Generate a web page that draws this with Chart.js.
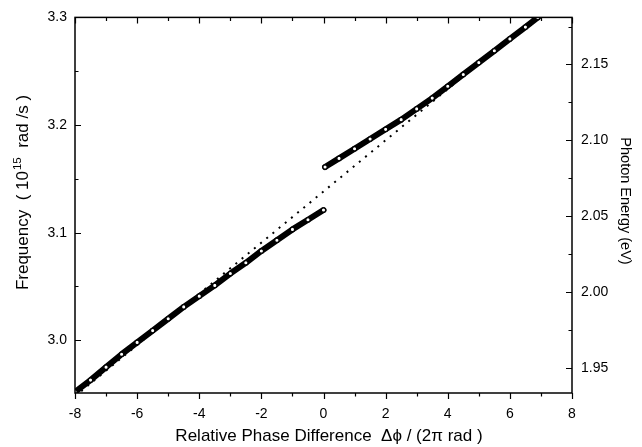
<!DOCTYPE html>
<html><head><meta charset="utf-8">
<script src="https://cdn.jsdelivr.net/npm/chart.js@4/dist/chart.umd.min.js"></script>
<style>html,body{margin:0;padding:0;background:#fff}#wrap{width:642px;height:447px}</style>
</head><body><div id="wrap"><canvas id="c" width="642" height="447"></canvas></div>
<script>
// ---- data ----
const lowerX = [-8, -7.5, -7, -6.5, -6, -5.5, -5, -4.5, -4, -3.5, -3, -2.5, -2, -1.5, -1, -0.5, 0];
const lowerY = [2.952, 2.963, 2.975, 2.987, 2.998, 3.009, 3.020, 3.031, 3.041, 3.051, 3.062, 3.072, 3.083, 3.093, 3.103, 3.112, 3.121];
const upperX = [0.05, 0.5, 1, 1.5, 2, 2.5, 3, 3.5, 4, 4.5, 5, 5.5, 6, 6.5, 6.9];
const upperY = [3.161, 3.169, 3.178, 3.187, 3.196, 3.205, 3.215, 3.225, 3.236, 3.247, 3.258, 3.269, 3.280, 3.291, 3.300];
const fitX = [-8, 6.8];
const fitY = [2.948, 3.300];
const xTicks = [-8, -6, -4, -2, 0, 2, 4, 6, 8];
const xMinorTicks = [-7, -5, -3, -1, 1, 3, 5, 7];
const freqTicks = [3.0, 3.1, 3.2, 3.3];
const freqMinorTicks = [3.05, 3.15, 3.25];
const energyTicks = [1.95, 2.00, 2.05, 2.10, 2.15];
const energyMinorTicks = [1.975, 2.025, 2.075, 2.125, 2.175];

const FONT = 'Liberation Sans, Arial, Helvetica, sans-serif';
const toPts = (xs, ys) => xs.map((x, i) => ({x: x, y: ys[i]}));

const framePlugin = {
  id: 'frame',
  afterDraw(chart) {
    const ctx = chart.ctx, a = chart.chartArea;
    const sx = chart.scales.x, sy = chart.scales.y, sy2 = chart.scales.y2;
    ctx.save();
    ctx.strokeStyle = '#000';
    ctx.lineWidth = 1.5;
    ctx.strokeRect(a.left, a.top, a.right - a.left, a.bottom - a.top);
    ctx.lineWidth = 1.2;
    ctx.beginPath();
    const tick = (x1, y1, x2, y2) => { ctx.moveTo(x1, y1); ctx.lineTo(x2, y2); };
    xTicks.forEach(v => { const p = Math.round(sx.getPixelForValue(v)) + 0.5;
      tick(p, a.bottom, p, a.bottom + 6); tick(p, a.top, p, a.top + 6); });
    xMinorTicks.forEach(v => { const p = Math.round(sx.getPixelForValue(v)) + 0.5;
      tick(p, a.bottom, p, a.bottom + 3.5); tick(p, a.top, p, a.top + 3.5); });
    freqTicks.forEach(v => { const p = Math.round(sy.getPixelForValue(v)) + 0.5; tick(a.left, p, a.left + 6, p); });
    freqMinorTicks.forEach(v => { const p = Math.round(sy.getPixelForValue(v)) + 0.5; tick(a.left, p, a.left + 3.5, p); });
    energyTicks.forEach(v => { const p = Math.round(sy2.getPixelForValue(v)) + 0.5; tick(a.right, p, a.right - 6, p); });
    energyMinorTicks.forEach(v => { const p = Math.round(sy2.getPixelForValue(v)) + 0.5; tick(a.right, p, a.right - 3.5, p); });
    ctx.stroke();

    // axis titles
    ctx.fillStyle = '#000';
    ctx.textBaseline = 'alphabetic';
    ctx.font = '17px ' + FONT;
    ctx.textAlign = 'center';
    ctx.fillText('Relative Phase Difference  \u0394\u03d5 / (2\u03c0 rad )', 329, 441);

    // left title with superscript
    ctx.save();
    ctx.translate(28, 193);
    ctx.rotate(-Math.PI / 2);
    ctx.textAlign = 'left';
    const p1 = 'Frequency  ( 10', p2 = '15', p3 = '  rad /s )';
    ctx.font = '17px ' + FONT; const w1 = ctx.measureText(p1).width, w3 = ctx.measureText(p3).width;
    ctx.font = '11.5px ' + FONT; const w2 = ctx.measureText(p2).width;
    let x0 = -(w1 + w2 + w3) / 2;
    ctx.font = '17px ' + FONT; ctx.fillText(p1, x0, 0);
    ctx.font = '11.5px ' + FONT; ctx.fillText(p2, x0 + w1 + 1, -7);
    ctx.font = '17px ' + FONT; ctx.fillText(p3, x0 + w1 + w2 + 1, 0);
    ctx.restore();

    // right title
    ctx.save();
    ctx.translate(621, 201);
    ctx.rotate(Math.PI / 2);
    ctx.textAlign = 'center';
    ctx.font = '14.5px ' + FONT;
    ctx.fillText('Photon Energy (eV)', 0, 0);
    ctx.restore();
    ctx.restore();
  }
};

const branchStyle = {
  showLine: true,
  borderColor: '#000',
  borderWidth: 6,
  borderCapStyle: 'round',
  borderJoinStyle: 'round',
  pointRadius: 2.2,
  pointBackgroundColor: '#fff',
  pointBorderColor: '#000',
  pointBorderWidth: 1.3,
  order: 1
};

new Chart(document.getElementById('c'), {
  type: 'scatter',
  data: {
    datasets: [
      Object.assign({ label: 'lower', data: toPts(lowerX, lowerY) }, branchStyle),
      Object.assign({ label: 'upper', data: toPts(upperX, upperY) }, branchStyle),
      { label: 'fit', data: toPts(fitX, fitY), showLine: true, borderColor: '#000', borderWidth: 2,
        borderDash: [2, 6], pointRadius: 0, order: 2 }
    ]
  },
  options: {
    responsive: false,
    animation: false,
    devicePixelRatio: 1,
    layout: { padding: { top: 16, left: 0, right: 0, bottom: 0 } },
    plugins: { legend: { display: false }, tooltip: { enabled: false } },
    scales: {
      x: {
        type: 'linear', min: -8, max: 8,
        afterBuildTicks: s => { s.ticks = xTicks.map(v => ({ value: v })); },
        afterFit: s => { s.height = 54; },
        grid: { display: false, drawTicks: false }, border: { display: false },
        ticks: { padding: 13, color: '#000', font: { family: FONT, size: 14 }, maxRotation: 0, autoSkip: false,
                 callback: v => String(v) }
      },
      y: {
        type: 'linear', position: 'left', min: 2.951, max: 3.3,
        afterBuildTicks: s => { s.ticks = freqTicks.map(v => ({ value: v })); },
        afterFit: s => { s.width = 75; },
        grid: { display: false, drawTicks: false }, border: { display: false },
        ticks: { padding: 8, color: '#000', font: { family: FONT, size: 14 }, autoSkip: false,
                 callback: v => Number(v).toFixed(1) }
      },
      y2: {
        type: 'linear', position: 'right', min: 1.9336, max: 2.181,
        afterBuildTicks: s => { s.ticks = energyTicks.map(v => ({ value: v })); },
        afterFit: s => { s.width = 70; },
        grid: { display: false, drawTicks: false }, border: { display: false },
        ticks: { padding: 9, color: '#000', font: { family: FONT, size: 14 }, autoSkip: false,
                 callback: v => Number(v).toFixed(2) }
      }
    }
  },
  plugins: [framePlugin]
});
</script>
</body></html>
